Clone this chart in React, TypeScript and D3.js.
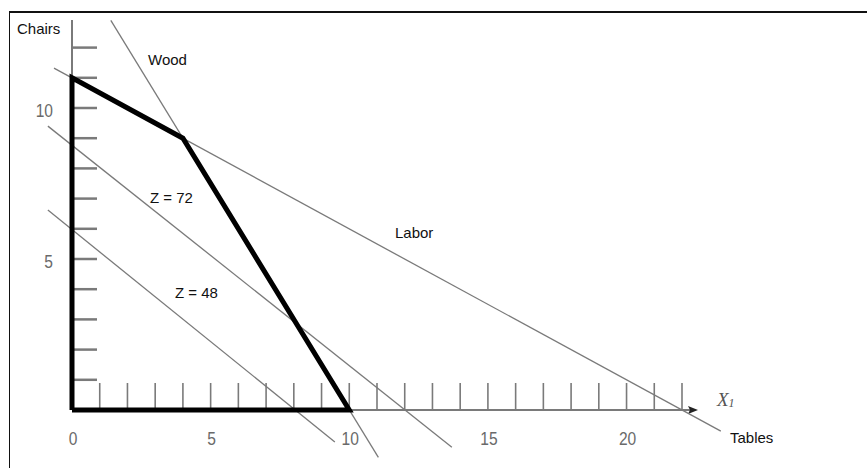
import * as d3 from 'd3'

type Pt = [number, number]

const labor: Pt[] = [[-0.65, 11.32], [23.4, -0.7]]
const wood: Pt[] = [[1.4, 12.9], [11.05, -1.57]]
const z72: Pt[] = [[-0.87, 9.4], [13.7, -1.23]]
const z48: Pt[] = [[-0.87, 6.62], [9.48, -1.06]]
const feasible: Pt[] = [[0, 0], [0, 11], [4, 9], [10, 0], [0, 0]]

const xTicks = [1, 2, 3, 4, 5, 6, 7, 8, 9, 10, 11, 12, 13, 14, 15, 16, 17, 18, 19, 20, 21, 22]
const yTicks = [1, 2, 3, 4, 5, 6, 7, 8, 9, 10, 11, 12]
const xTickLabels = [0, 5, 10, 15, 20]
const yTickLabels = [5, 10]

const GRAY = '#7a7a7a'
const LABEL_FONT = 'Liberation Sans, Arial, sans-serif'

export default function App() {
  const width = 867
  const height = 468

  const x = d3.scaleLinear().domain([0, 22]).range([72, 682])
  const y = d3.scaleLinear().domain([0, 10]).range([410, 108])

  const line = d3.line<Pt>().x(d => x(d[0])).y(d => y(d[1]))

  return (
    <svg
      width={width}
      height={height}
      viewBox={`0 0 ${width} ${height}`}
      style={{position: 'absolute', left: 0, top: 0, background: '#fff'}}
    >
      {/* frame */}
      <line x1={9} y1={12} x2={width} y2={12} stroke="#111" strokeWidth={2} />
      <line x1={9.5} y1={12} x2={9.5} y2={height} stroke="#111" strokeWidth={1} />

      {/* axes */}
      <line x1={x(0)} y1={y(0)} x2={694} y2={y(0)} stroke={GRAY} strokeWidth={2} />
      <path d={`M 698 ${y(0)} L 688 ${y(0) - 4} L 690 ${y(0)} L 688 ${y(0) + 4} Z`} fill="#222" />
      <line x1={x(0)} y1={y(0)} x2={x(0)} y2={20} stroke={GRAY} strokeWidth={2} />

      {xTicks.map(t => (
        <line key={'xt' + t} x1={x(t)} x2={x(t)} y1={y(0)} y2={y(0) - 27} stroke={GRAY} strokeWidth={1.6} />
      ))}
      {yTicks.map(t => (
        <line key={'yt' + t} x1={x(0)} x2={x(0) + 25} y1={y(t)} y2={y(t)} stroke={GRAY} strokeWidth={2.5} />
      ))}

      {/* tick numbers, condensed like the scan */}
      <g fontFamily={LABEL_FONT} fontSize={19} fill="#6a6a6a" textAnchor="middle">
        {xTickLabels.map(t => (
          <text key={'xl' + t} transform={`translate(${x(t) + 1}, 445) scale(0.82, 1)`}>{t}</text>
        ))}
      </g>
      <g fontFamily={LABEL_FONT} fontSize={19} fill="#6a6a6a" textAnchor="end">
        {yTickLabels.map(t => (
          <text key={'yl' + t} transform={`translate(53, ${y(t) + 9}) scale(0.82, 1)`}>{t}</text>
        ))}
      </g>

      {/* constraint and objective lines */}
      {[labor, wood, z72, z48].map((l, i) => (
        <path key={'l' + i} d={line(l) ?? undefined} stroke={GRAY} strokeWidth={1.3} fill="none" />
      ))}

      {/* feasible region */}
      <path d={line(feasible) ?? undefined} stroke="#000" strokeWidth={5} fill="none" strokeLinejoin="miter" />

      <g fontFamily={LABEL_FONT} fontSize={15} fill="#111">
        <text x={17} y={34}>Chairs</text>
        <text x={148} y={65}>Wood</text>
        <text x={150} y={203}>Z = 72</text>
        <text x={175} y={298}>Z = 48</text>
        <text x={395} y={238}>Labor</text>
        <text x={730} y={443}>Tables</text>
      </g>

      <text x={717} y={406} fontFamily="Liberation Serif, serif" fontStyle="italic" fontSize={19} fill="#555">
        X<tspan fontSize={12} dy={1}>1</tspan>
      </text>
    </svg>
  )
}
